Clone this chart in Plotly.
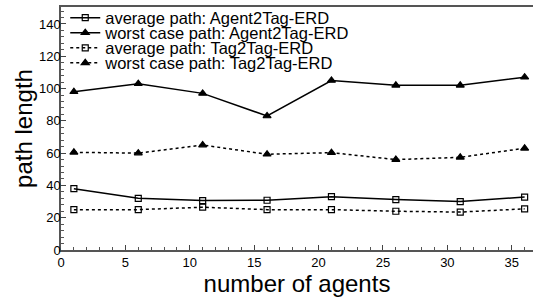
import plotly.graph_objects as go

agents = [1, 6, 11, 16, 21, 26, 31, 36]
avg_agent2tag = [38, 32, 30.6, 30.8, 33, 31.2, 30, 32.8]
worst_agent2tag = [98, 103, 97, 83, 105, 102, 102, 107]
avg_tag2tag = [25, 25, 26.5, 25, 25, 24, 23.5, 25.5]
worst_tag2tag = [60.5, 60, 65, 59.3, 60.3, 56, 57.4, 63]

names = ["average path: Agent2Tag-ERD", "worst case path: Agent2Tag-ERD",
         "average path: Tag2Tag-ERD", "worst case path: Tag2Tag-ERD"]
series = [avg_agent2tag, worst_agent2tag, avg_tag2tag, worst_tag2tag]
dashes = ["solid", "solid", "dot", "dot"]
symbols = ["square-open", "triangle-up", "square-open", "triangle-up"]
legend_ids = ["legend", "legend2", "legend3", "legend4"]
legend_rows = [0.955, 0.893, 0.831, 0.769]

font = "Liberation Sans, Arial, Helvetica, sans-serif"

fig = go.Figure()
for name, ys, d, s, lid in zip(names, series, dashes, symbols, legend_ids):
    fig.add_trace(go.Scatter(
        x=agents, y=ys, name=name, mode="lines+markers", legend=lid,
        line=dict(color="black", width=1.5, dash=d),
        marker=dict(symbol=s, size=7 if "triangle" in s else 6, color="black",
                    line=dict(color="black", width=1.2)),
    ))

legend_common = dict(x=0.009, xanchor="left", yanchor="middle",
                     bgcolor="rgba(0,0,0,0)", font=dict(size=16.5, family=font),
                     itemwidth=30)
layout_legends = {}
for lid, ly in zip(legend_ids, legend_rows):
    layout_legends[lid] = dict(legend_common, y=ly)

fig.update_layout(
    width=533, height=304,
    margin=dict(l=61, r=0, t=7, b=54, autoexpand=False),
    paper_bgcolor="white", plot_bgcolor="white",
    font=dict(family=font, color="black", size=13),
    showlegend=True,
    xaxis=dict(range=[0, 36.65], dtick=5, tick0=0, ticks="inside", ticklen=5,
               showgrid=False, zeroline=False, showline=True, linecolor="#555",
               linewidth=1.5, mirror=True, automargin=False,
               minor=dict(dtick=1, ticks="inside", ticklen=3, tickcolor="#555"),
               title=dict(text="number of agents", font=dict(size=24), standoff=4),
               tickfont=dict(size=13)),
    yaxis=dict(range=[0, 150.5], dtick=20, tick0=0, ticks="inside", ticklen=5,
               showgrid=False, zeroline=False, showline=True, linecolor="#555",
               linewidth=1.5, automargin=False, ticklabelstandoff=-4,
               minor=dict(dtick=4, ticks="inside", ticklen=3, tickcolor="#555"),
               title=dict(text="path length", font=dict(size=24), standoff=0),
               tickfont=dict(size=13)),
    **layout_legends,
)

fig.write_html("out.html",
               config={"displayModeBar": False},
               post_script="document.body.style.margin='0';document.body.style.padding='0';document.body.style.overflow='hidden';")
